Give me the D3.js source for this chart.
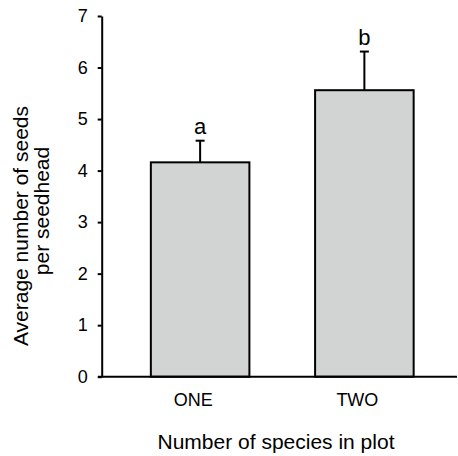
<!DOCTYPE html>
<html>
<head>
<meta charset="utf-8">
<script src="https://cdn.jsdelivr.net/npm/d3@7"></script>
<style>
  html, body { margin: 0; padding: 0; background: #fff; }
  svg { display: block; font-family: "Liberation Sans", Arial, Helvetica, sans-serif; }
</style>
</head>
<body>
<svg id="chart" width="458" height="456"></svg>
<script>
const categories = ["ONE", "TWO"];
const means = [4.16, 5.56];
const errors = [0.42, 0.75];
const letters = ["a", "b"];
const yTicks = [0, 1, 2, 3, 4, 5, 6, 7];
const yTitleLines = ["Average number of seeds", "per seedhead"];
const xTitle = "Number of species in plot";

const svg = d3.select("#chart");
const plotTop = 16, plotBottom = 376.7, axisX = 101.7;

const y = d3.scaleLinear().domain([0, 7]).range([plotBottom, plotTop]);
const x = d3.scaleBand().domain(categories).range([118, 446.5])
  .paddingInner(0.4).paddingOuter(0.2);

// bars
svg.append("g").selectAll("rect").data(categories).join("rect")
  .attr("x", d => x(d))
  .attr("width", x.bandwidth())
  .attr("y", (d, i) => y(means[i]))
  .attr("height", (d, i) => y(0) - y(means[i]))
  .attr("fill", "#d2d3d3")
  .attr("stroke", "#000")
  .attr("stroke-width", 2);

// error bars
const eg = svg.append("g").attr("stroke", "#000").attr("stroke-width", 2);
categories.forEach((c, i) => {
  const cx = x(c) + x.bandwidth() / 2;
  eg.append("line").attr("x1", cx).attr("x2", cx)
    .attr("y1", y(means[i])).attr("y2", y(means[i] + errors[i]));
  eg.append("line").attr("x1", cx - 4.5).attr("x2", cx + 4.5)
    .attr("y1", y(means[i] + errors[i])).attr("y2", y(means[i] + errors[i]));
});

// letters
svg.append("g").selectAll("text").data(categories).join("text")
  .attr("x", d => x(d) + x.bandwidth() / 2)
  .attr("y", (d, i) => y(means[i] + errors[i]) - 7)
  .attr("text-anchor", "middle")
  .attr("font-size", 22)
  .attr("fill", "#000")
  .text((d, i) => letters[i]);

// y axis
const yAxis = svg.append("g").attr("transform", `translate(${axisX},0)`)
  .call(d3.axisLeft(y).tickValues(yTicks).tickFormat(d3.format("d"))
    .tickSize(4).tickPadding(10).tickSizeOuter(0));
yAxis.attr("font-family", null);
yAxis.select(".domain").attr("stroke-width", 2);
yAxis.selectAll(".tick line").attr("stroke-width", 2);
yAxis.selectAll(".tick text").attr("font-size", 18).attr("fill", "#000");

// x axis line
svg.append("line").attr("x1", 98).attr("x2", 457)
  .attr("y1", y(0)).attr("y2", y(0))
  .attr("stroke", "#000").attr("stroke-width", 2);

// x axis labels
const xAxis = svg.append("g").attr("transform", `translate(0,${plotBottom})`)
  .call(d3.axisBottom(x).tickSize(0).tickPadding(17));
xAxis.attr("font-family", null);
xAxis.select(".domain").remove();
xAxis.selectAll(".tick text").attr("font-size", 18).attr("fill", "#000").attr("dx", -7);

// x title
svg.append("text").attr("x", 276).attr("y", 449)
  .attr("text-anchor", "middle").attr("font-size", 21).attr("fill", "#000")
  .text(xTitle);

// y title
const yCenters = [226, 211], yBase = [27.5, 49];
svg.append("g").selectAll("text").data(yTitleLines).join("text")
  .attr("transform", (d, i) => `translate(${yBase[i]},${yCenters[i]}) rotate(-90)`)
  .attr("text-anchor", "middle").attr("font-size", 21).attr("fill", "#000")
  .text(d => d);
</script>
</body>
</html>
